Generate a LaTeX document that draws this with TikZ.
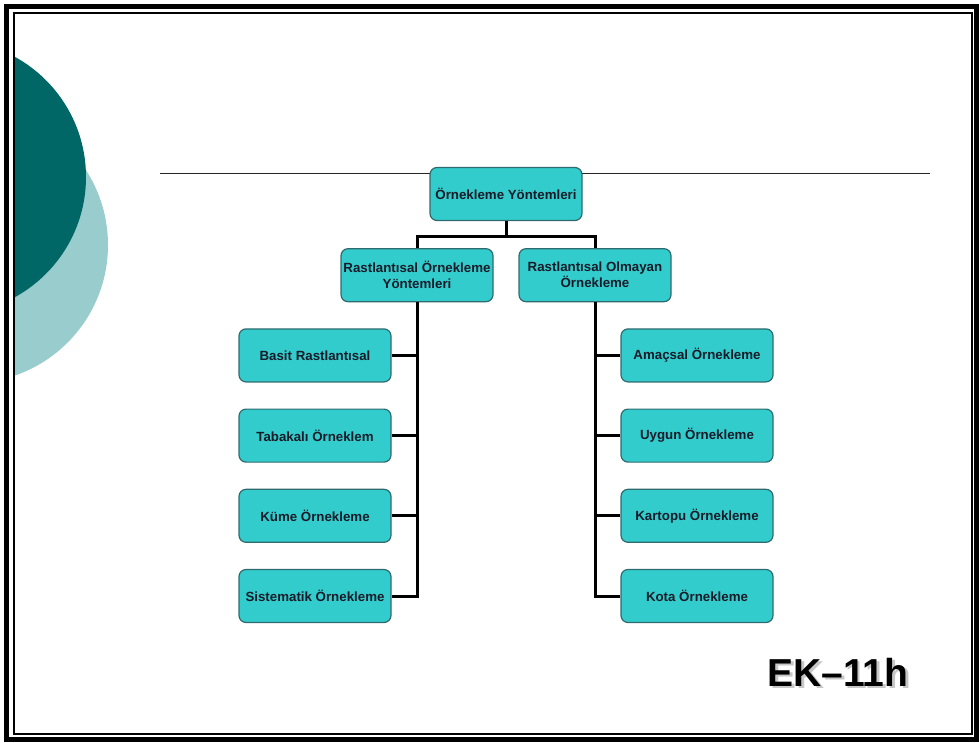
\documentclass[tikz,border=0pt]{standalone}
\usepackage{fontspec}
\setmainfont{Liberation Sans}
\usetikzlibrary{positioning}

\definecolor{boxfill}{HTML}{33CCCC}
\definecolor{boxline}{HTML}{2F6B6E}
\definecolor{darkteal}{HTML}{006666}
\definecolor{lightteal}{HTML}{99CCCC}
\definecolor{boxtext}{HTML}{1A1A28}

\tikzset{
	method/.style={draw=boxline, line width=1.2pt, fill=boxfill, rounded corners=7pt,
		minimum width=152pt, minimum height=53pt, inner sep=2pt, align=center,
		font=\fontsize{13.3}{16}\selectfont\bfseries, text=boxtext},
	link/.style={line width=3pt, black},
	tag/.style={font=\fontsize{39}{44}\selectfont\bfseries},
}

\begin{document}
\begin{tikzpicture}[x=1pt,y=-1pt]
		\useasboundingbox (0,0) rectangle (979,742);
		
		% Set up the background
		\begin{scope}
			\clip (15,14) rectangle (972,734);
			\fill[lightteal] (-30,245) circle (138pt);
			\fill[darkteal] (-51,177) circle (137pt);
		\end{scope}
		\draw[line width=5pt] (6,6) rectangle (976,739);
		\draw[line width=1.5pt] (14,13) rectangle (972,734);
		\draw[line width=0.8pt, black!85] (160,173) -- (930,173);
		
		% Set up the boxes (sampling methods)
		\node[method] (top) at (506,194) {Örnekleme Yöntemleri};
		\node[method, below=27pt of top, xshift=-89pt] (rand) {Rastlantısal Örnekleme\\Yöntemleri};
		\node[method, below=27pt of top, xshift=89pt] (nonrand) {Rastlantısal Olmayan\\Örnekleme};
		\node[method, below=26pt of rand, xshift=-102pt] (basit) {Basit Rastlantısal};
		\node[method, below=26pt of basit] (tabakali) {Tabakalı Örneklem};
		\node[method, below=26pt of tabakali] (kume) {Küme Örnekleme};
		\node[method, below=26pt of kume] (sistematik) {Sistematik Örnekleme};
		\node[method, below=26pt of nonrand, xshift=102pt] (amacsal) {Amaçsal Örnekleme};
		\node[method, below=26pt of amacsal] (uygun) {Uygun Örnekleme};
		\node[method, below=26pt of uygun] (kartopu) {Kartopu Örnekleme};
		\node[method, below=26pt of kartopu] (kota) {Kota Örnekleme};
		
		% Add the links
		\coordinate (fork) at ([yshift=-15pt]top.south);
		\draw[link] (top) -- (fork);
		\draw[link] (rand.north) |- (fork) -| (nonrand.north);
		\draw[link] (rand.south) |- (sistematik.east);
		\foreach \leaf in {basit,tabakali,kume}
			\draw[link] (\leaf.east) -- (\leaf.east -| rand.south);
		\draw[link] (nonrand.south) |- (kota.west);
		\foreach \leaf in {amacsal,uygun,kartopu}
			\draw[link] (\leaf.west) -- (\leaf.west -| nonrand.south);
		
		% Add the label
		\node[tag, text=black!22] (tagshadow) at (840.5,674.5) {EK–11h};
		\node[tag] (ektag) at (838,672) {EK–11h};
	\end{tikzpicture}
\end{document}
